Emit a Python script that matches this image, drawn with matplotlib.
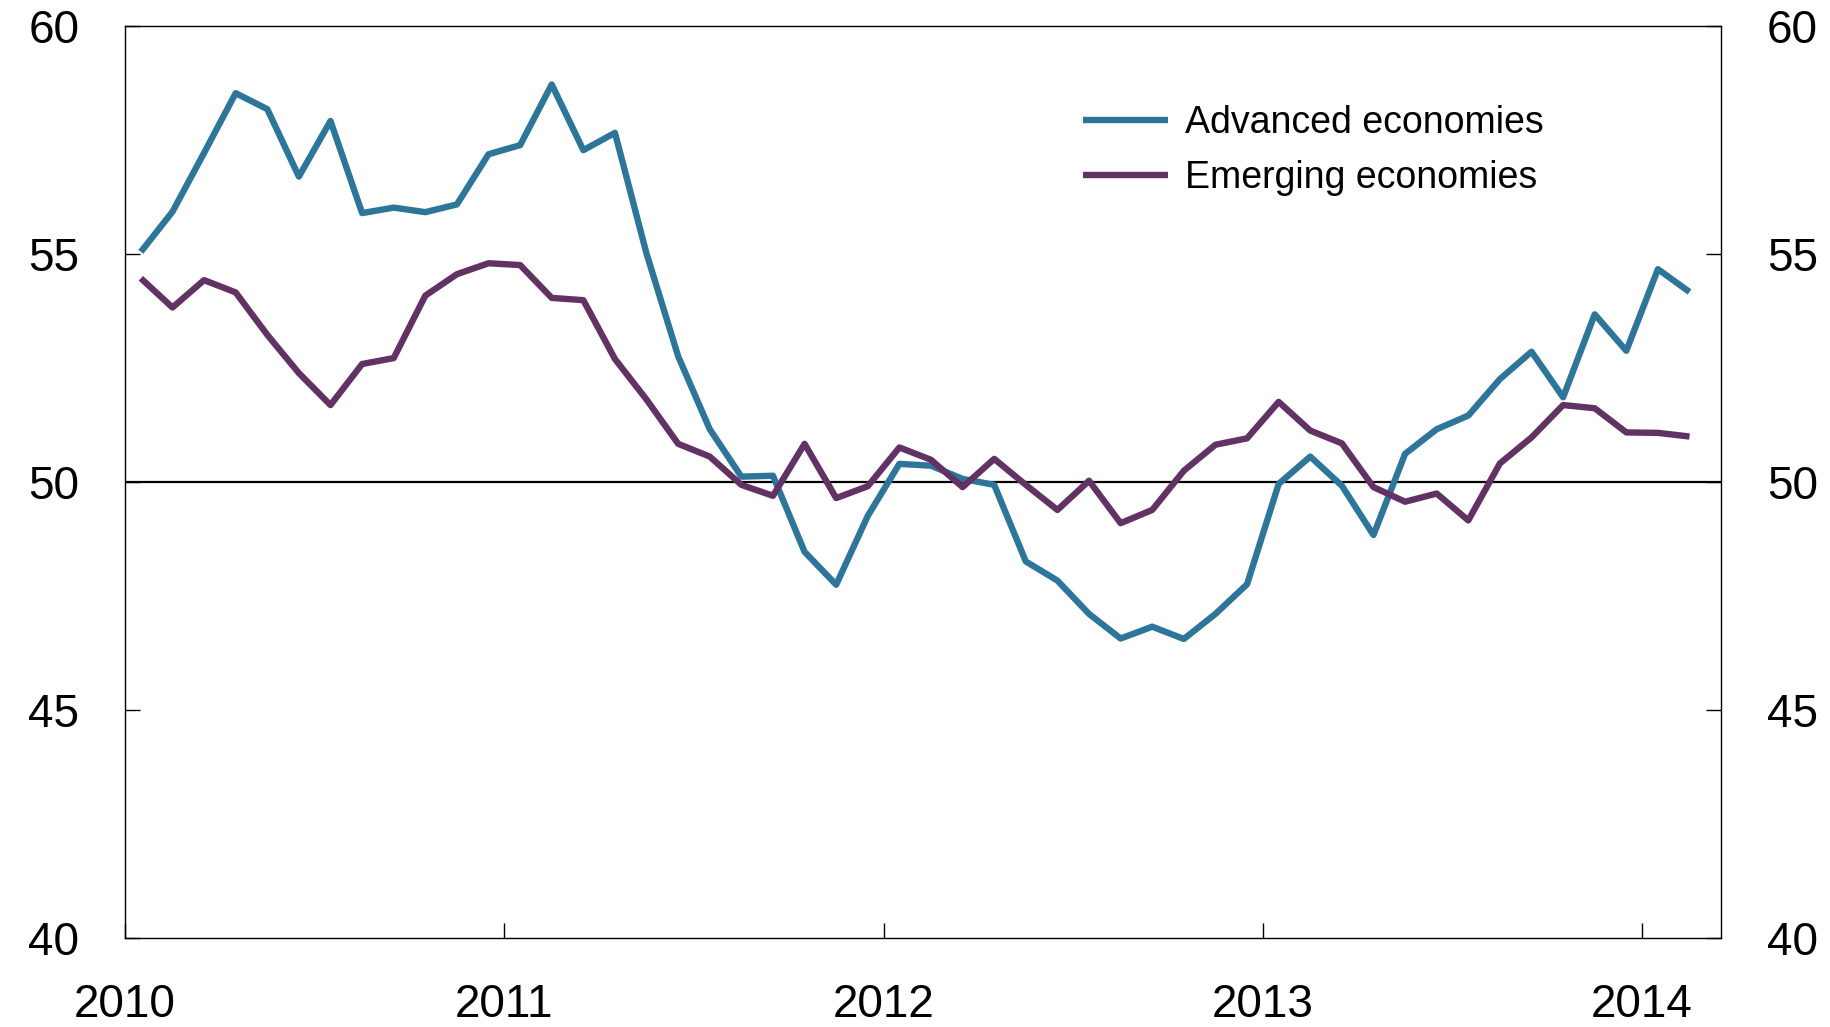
import numpy as np
import matplotlib
matplotlib.use('Agg')
import matplotlib.pyplot as plt

plt.rcParams['font.family'] = ['Liberation Sans', 'DejaVu Sans']

# monthly PMI, Jan 2010 - Feb 2014
start_year = 2010
advanced = [55.04, 55.92, 57.21, 58.52, 58.17, 56.69, 57.91, 55.89, 56.01, 55.91,
            56.08, 57.18, 57.38, 58.71, 57.27, 57.65, 55.0, 52.75, 51.15, 50.11,
            50.13, 48.46, 47.74, 49.25, 50.39, 50.35, 50.06, 49.93, 48.25, 47.83,
            47.1, 46.56, 46.82, 46.55, 47.1, 47.75, 49.95, 50.55, 49.91, 48.83,
            50.61, 51.15, 51.45, 52.25, 52.85, 51.85, 53.67, 52.87, 54.66, 54.16]
emerging = [54.46, 53.82, 54.42, 54.15, 53.22, 52.38, 51.68, 52.58, 52.71, 54.08,
            54.55, 54.79, 54.75, 54.03, 53.98, 52.69, 51.8, 50.83, 50.55, 49.93,
            49.69, 50.83, 49.64, 49.9, 50.75, 50.48, 49.88, 50.5, 49.93, 49.38,
            50.02, 49.09, 49.38, 50.24, 50.81, 50.95, 51.75, 51.12, 50.84, 49.88,
            49.56, 49.74, 49.15, 50.4, 50.97, 51.68, 51.61, 51.08, 51.07, 50.99]
labels = ['Advanced economies', 'Emerging economies']
colors = ['#2E7699', '#633264']
year_ticks = [2010, 2011, 2012, 2013, 2014]
y_ticks = [40, 45, 50, 55, 60]

# mid-month positions
x = start_year + (np.arange(len(advanced)) + 0.5) / 12

fig = plt.figure(figsize=(18.31, 10.27), dpi=100)
ax = fig.add_axes([0.0683, 0.087, 0.8717, 0.888])

ax.axhline(50, color='black', lw=1.6, zorder=1)
for vals, lab, c in zip([advanced, emerging], labels, colors):
    ax.plot(x, vals, color=c, lw=4.6, label=lab, solid_capstyle='butt', zorder=3)

ax.set_xlim(2010, 2010 + 50.5 / 12)
ax.set_ylim(40, 60)
ax.set_xticks(year_ticks)
ax.set_xticklabels([str(y) for y in year_ticks])
ax.set_yticks(y_ticks)

for s in ax.spines.values():
    s.set_linewidth(1.0)
    s.set_color('black')

ax.tick_params(axis='both', direction='in', length=11, width=1.0,
               labelsize=33, pad=33)
ax.tick_params(axis='y', right=True, labelright=True)
ax.tick_params(axis='x', pad=33)

ax.legend(loc='upper left', bbox_to_anchor=(1083 / 1831, 1 - 105 / 1027),
          bbox_transform=fig.transFigure, frameon=False, fontsize=27,
          handlelength=2.27, handletextpad=0.45, labelspacing=0.5,
          borderpad=0, borderaxespad=0)

fig.savefig('out.png', dpi=100)
